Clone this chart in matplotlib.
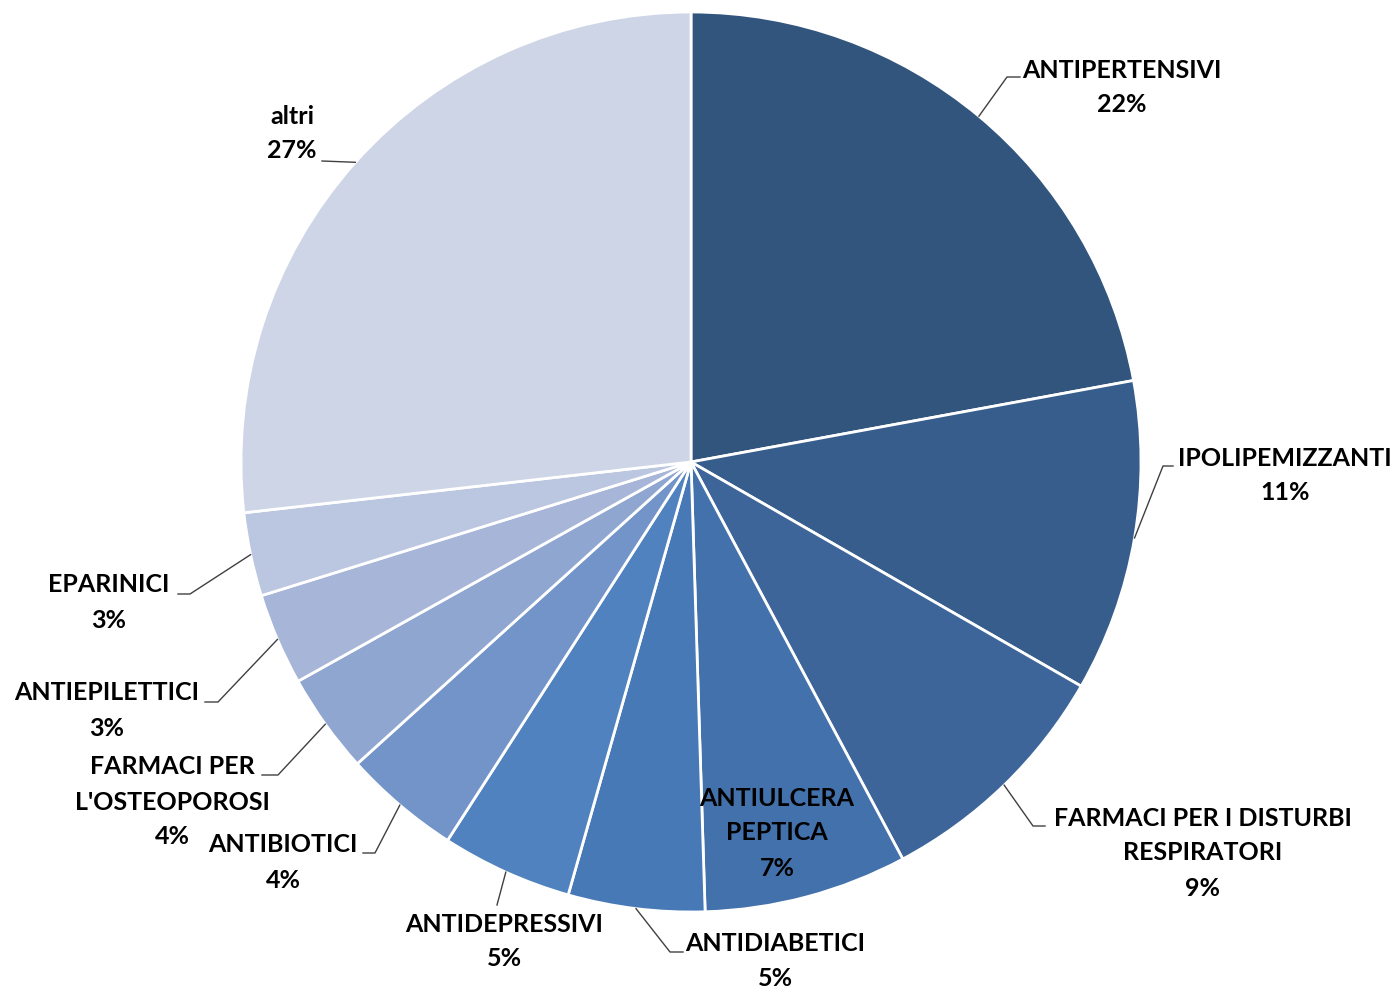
import numpy as np
import matplotlib.pyplot as plt

labels = ["ANTIPERTENSIVI", "IPOLIPEMIZZANTI", "FARMACI PER I DISTURBI\nRESPIRATORI",
          "ANTIULCERA\nPEPTICA", "ANTIDIABETICI", "ANTIDEPRESSIVI", "ANTIBIOTICI",
          "FARMACI PER\nL'OSTEOPOROSI", "ANTIEPILETTICI", "EPARINICI", "altri"]
values = [22.1, 11.2, 8.9, 7.3, 4.9, 4.7, 4.2, 3.6, 3.3, 3.0, 26.8]
pct_text = ["22%", "11%", "9%", "7%", "5%", "5%", "4%", "4%", "3%", "3%", "27%"]

colors = ["#31557d", "#375d8c", "#3d6599", "#4371ab", "#4679b6", "#4f82be",
          "#7394c8", "#8fa6d0", "#a7b6d8", "#bbc6e0", "#cdd5e6"]

# pixel helpers: pie centre at (691, 462), radius 450 px
W, H = 1398, 991
cx, cy, R = 691, 462, 450
line_h = 35  # px between label lines

def px(x, y):
    return ((x - cx) / R, (cy - y) / R)

# label x centre and y of first line, elbow and end of leader (pixels)
label_pos = [(1122, 70), (1285, 458), (1203, 818), (777, 798), (775, 943), (504, 924),
             (283, 845), (172, 767), (107, 693), (109, 585), (292, 116)]
elbows = [((1007, 77), (1020, 77)), ((1163, 466), (1173, 466)), ((1033, 826), (1045, 826)),
          None, ((670, 952), (683, 952)), ((497, 905), (497, 905)), ((375, 853), (363, 853)),
          ((278, 775), (262, 775)), ((218, 702), (205, 702)), ((190, 594), (178, 594)),
          ((322, 161), (322, 161))]

fig = plt.figure(figsize=(W / 100, H / 100), dpi=100)
ax = fig.add_axes([0, 0, 1, 1])

wedges, _ = ax.pie(values, colors=colors, startangle=90, counterclock=False, radius=1,
                   wedgeprops=dict(edgecolor='white', linewidth=2))
ax.set_xlim(-cx / R, (W - cx) / R)
ax.set_ylim((cy - H) / R, cy / R)
ax.set_aspect('equal')
ax.axis('off')

font = dict(family=['Lato', 'DejaVu Sans'], fontsize=18, fontweight='bold', color='black')

for i, w in enumerate(wedges):
    mid = np.deg2rad((w.theta1 + w.theta2) / 2)
    if elbows[i] is not None:
        ex, ey = np.cos(mid), np.sin(mid)
        (bx, by), (tx, ty) = elbows[i]
        b = px(bx, by)
        t = px(tx, ty)
        ax.plot([ex, b[0], t[0]], [ey, b[1], t[1]], color='#404040', lw=1)
    lines = labels[i].split("\n") + [pct_text[i]]
    x0, y0 = label_pos[i]
    for k, s in enumerate(lines):
        lx, ly = px(x0, y0 + k * line_h)
        ax.text(lx, ly, s, ha='center', va='center', **font)

fig.savefig("out.png", dpi=100)
